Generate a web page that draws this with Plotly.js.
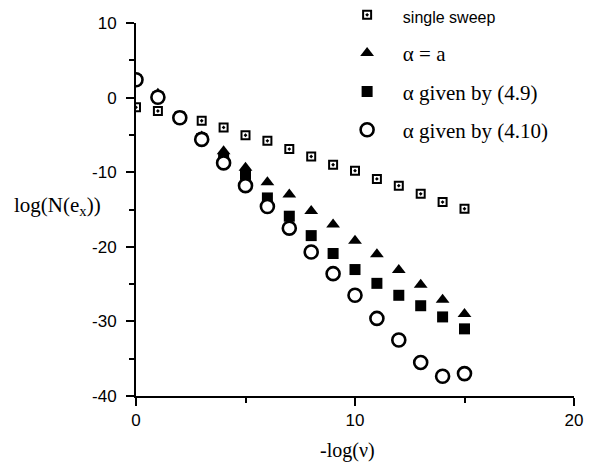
<!DOCTYPE html>
<html>
<head>
<meta charset="utf-8">
<script src="https://cdn.plot.ly/plotly-3.0.1.min.js"></script>
<style>html,body{margin:0;padding:0;background:#fff;}#chart{width:590px;height:462px;}</style>
</head>
<body>
<div id="chart"></div>
<script>
// -log(nu) values
var xSingle = [0,1,2,3,4,5,6,7,8,9,10,11,12,13,14,15];
var ySingle = [-1.3,-1.8,-2.5,-3.1,-4.0,-5.05,-5.8,-6.9,-7.9,-9.0,-9.8,-10.9,-11.8,-12.9,-14.0,-14.9];

var xAlphaA = [0,1,2,3,4,5,6,7,8,9,10,11,12,13,14,15];
var yAlphaA = [2.4,0.5,-2.6,-5.2,-7.2,-9.4,-11.35,-13.0,-15.2,-17.0,-19.2,-21.0,-23.1,-25.1,-27.1,-29.0];

var xAlpha49 = [0,1,2,3,4,5,6,7,8,9,10,11,12,13,14,15];
var yAlpha49 = [2.4,0.1,-2.7,-5.5,-8.2,-10.3,-13.45,-15.9,-18.5,-20.9,-23.05,-24.9,-26.5,-27.9,-29.4,-31.0];

var xAlpha410 = [0,1,2,3,4,5,6,7,8,9,10,11,12,13,14,15];
var yAlpha410 = [2.4,0.05,-2.7,-5.6,-8.75,-11.8,-14.6,-17.5,-20.7,-23.6,-26.5,-29.6,-32.5,-35.5,-37.35,-37.0];

var xTicks = [0,10,20];
var yTicks = [10,0,-10,-20,-30,-40];

var pad = '\u00a0\u00a0\u00a0';
var names = [
  pad + '<span style="font-family:\'Liberation Sans\',Arial;font-size:16px">single sweep</span>',
  pad + '\u03b1 = a',
  pad + '\u03b1 given by (4.9)',
  pad + '\u03b1 given by (4.10)'
];

var traces = [
  {x:xSingle, y:ySingle, type:'scatter', mode:'markers', name:names[0], legendgroup:'a',
   marker:{symbol:'square-open-dot', size:8, color:'#000', line:{width:2, color:'#000'}}},
  {x:xAlphaA, y:yAlphaA, type:'scatter', mode:'markers', name:names[1], legendgroup:'b',
   marker:{symbol:'triangle-up', size:12, color:'#000', line:{width:0}}},
  {x:xAlpha49, y:yAlpha49, type:'scatter', mode:'markers', name:names[2], legendgroup:'c',
   marker:{symbol:'square', size:11, color:'#000', line:{width:0}}},
  {x:xAlpha410, y:yAlpha410, type:'scatter', mode:'markers', name:names[3], legendgroup:'d',
   marker:{symbol:'circle', size:13, color:'#fff', line:{width:2.6, color:'#000'}}}
];

var axisFont = {family:"'Liberation Sans', Arial, sans-serif", size:17, color:'#000'};
var serif = "'Liberation Serif','Times New Roman',serif";

var layout = {
  width:590, height:462,
  margin:{l:136, r:16, t:23, b:66, autoexpand:false},
  paper_bgcolor:'#fff', plot_bgcolor:'#fff',
  showlegend:true,
  legend:{x:0.482, xanchor:'left', y:1.076, yanchor:'top', bgcolor:'rgba(0,0,0,0)',
    font:{family:serif, size:21, color:'#000'},
    tracegroupgap:8, itemsizing:'trace'},
  xaxis:{range:[0,20], tickvals:xTicks, ticktext:xTicks.map(String), showgrid:false, zeroline:false,
    showline:true, linecolor:'#000', linewidth:2, ticks:'outside', ticklen:8, tickwidth:2, tickcolor:'#000',
    tickfont:axisFont, fixedrange:true, automargin:false,
    minor:{dtick:5, tick0:0, ticks:'outside', ticklen:5, tickwidth:2, tickcolor:'#000', showgrid:false}},
  yaxis:{range:[-40,10], tickvals:yTicks, ticktext:yTicks.map(String), showgrid:false, zeroline:false,
    showline:true, linecolor:'#000', linewidth:2, ticks:'outside', ticklen:8, tickwidth:2, tickcolor:'#000',
    tickfont:axisFont, fixedrange:true, ticklabelstandoff:6, automargin:false,
    minor:{dtick:5, tick0:0, ticks:'outside', ticklen:5, tickwidth:2, tickcolor:'#000', showgrid:false}},
  annotations:[
    {text:'log(N(e<sub>x</sub>))', xref:'paper', yref:'paper', x:-0.179, y:0.51, showarrow:false,
     xanchor:'center', yanchor:'middle', font:{family:serif, size:21, color:'#000'}},
    {text:'-log(\u03bd)', xref:'paper', yref:'paper', x:0.484, y:-0.145, showarrow:false,
     xanchor:'center', yanchor:'middle', font:{family:serif, size:20, color:'#000'}}
  ]
};

Plotly.newPlot('chart', traces, layout, {displayModeBar:false, staticPlot:true});
</script>
</body>
</html>
